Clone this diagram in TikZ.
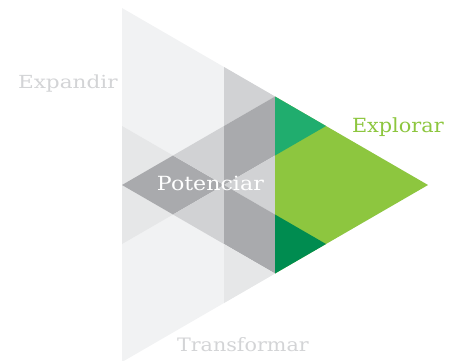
\documentclass[tikz,border=0pt]{standalone}
\usepackage{fontspec}
\setmainfont{DejaVu Serif}
\definecolor{gLight}{HTML}{F1F2F3}
\definecolor{gSoft}{HTML}{E6E7E8}
\definecolor{gMid}{HTML}{D1D2D4}
\definecolor{gDark}{HTML}{A9AAAD}
\definecolor{grBright}{HTML}{8DC63F}
\definecolor{grTeal}{HTML}{20AD6E}
\definecolor{grDeep}{HTML}{008C50}
\definecolor{txtGrey}{HTML}{D3D4D6}
\tikzset{
  lbl/.style={anchor=base west, inner sep=0pt, outer sep=0pt},
}
\begin{document}
\begin{tikzpicture}[x=1pt,y=-1pt]
\useasboundingbox (0,0) rectangle (459,360);
\clip (0,0) rectangle (459,360);
\begin{scope}[shift={(122pt,-185pt)}, x=51pt, y=-29.5pt]
  \fill[gLight] (0,-6) -- (0,6) -- (6,0) -- cycle;
  \fill[gSoft] (0,-2) -- (1,-1) -- (0,0) -- cycle;
  \fill[gSoft] (0,0) -- (1,1) -- (0,2) -- cycle;
  \fill[gDark] (0,0) -- (1,-1) -- (2,0) -- (1,1) -- cycle;
  \fill[gMid] (1,-1) -- (2,-2) -- (2,0) -- cycle;
  \fill[gMid] (1,1) -- (2,0) -- (2,2) -- cycle;
  \fill[gMid] (2,-4) -- (3,-3) -- (2,-2) -- cycle;
  \fill[gDark] (2,-2) -- (3,-3) -- (3,-1) -- (2,0) -- cycle;
  \fill[gMid] (2,0) -- (3,-1) -- (3,1) -- cycle;
  \fill[gDark] (2,0) -- (3,1) -- (3,3) -- (2,2) -- cycle;
  \fill[gSoft] (2,2) -- (3,3) -- (2,4) -- cycle;
  \fill[grBright] (3,-3) -- (3,3) -- (6,0) -- cycle;
  \fill[grTeal] (3,-3) -- (4,-2) -- (3,-1) -- cycle;
  \fill[grDeep] (3,1) -- (4,2) -- (3,3) -- cycle;
\end{scope}
\node[lbl, text=txtGrey, font=\fontsize{18}{20}\selectfont] (expandir) at (18,88) {\scalebox{1.2}[1]{Expandir}};
\node[lbl, text=white, font=\fontsize{19.5}{21}\selectfont] (potenciar) at (157,190) {\scalebox{1.135}[1]{Potenciar}};
\node[lbl, text=grBright, font=\fontsize{19.5}{21}\selectfont] (explorar) at (352,132.7) {\scalebox{1.067}[1]{Explorar}};
\node[lbl, text=txtGrey, font=\fontsize{18.5}{20}\selectfont] (transformar) at (177,351.7) {\scalebox{1.118}[1]{Transformar}};
\end{tikzpicture}
\end{document}
